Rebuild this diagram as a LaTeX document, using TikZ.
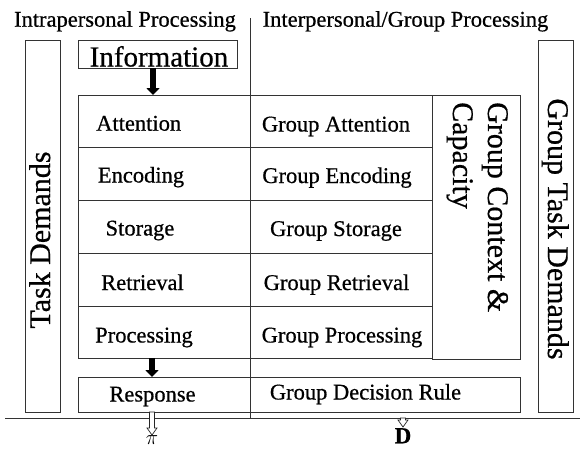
\documentclass[tikz,border=0pt]{standalone}
\usepackage{fontspec}
\setmainfont[FakeBold=0.6]{Liberation Serif}
\usetikzlibrary{arrows.meta,calc}
\begin{document}
\begin{tikzpicture}[x=1pt,y=-1pt,
  ln/.style={draw=black!80, line width=0.8pt},
  cell/.style={ln, rectangle, inner sep=0pt, outer sep=0pt, anchor=north west},
  lbl/.style={font=\fontsize{22.5}{27}\selectfont, inner sep=0pt, anchor=base},
  big/.style={font=\fontsize{30}{34}\selectfont, inner sep=0pt},
  solidarrow/.style={draw=black, line width=6pt, -{Triangle[width=13pt,length=7pt]}},
  hollowarrow/.style={draw=black!85, line width=0.7pt, fill=white, to path={
    ($(\tikztostart)+(-2.5,0)$) -- ($(\tikztotarget)+(-2.5,-7)$) -- ($(\tikztotarget)+(-5,-7)$)
    -- (\tikztotarget) -- ($(\tikztotarget)+(5,-7)$) -- ($(\tikztotarget)+(2.5,-7)$)
    -- ($(\tikztostart)+(2.5,0)$) -- cycle}},
]
\useasboundingbox (0,0) rectangle (583,451);

% boxes
\node[cell, minimum width=35pt, minimum height=372pt] (task) at (25,40) {};
\node[cell, minimum width=35pt, minimum height=372pt] (gtask) at (538,40) {};
\node[cell, minimum width=159pt, minimum height=28pt] (info) at (78,40) {};
\node[cell, minimum width=354pt, minimum height=52pt] (rA) at (78,95) {};
\node[cell, minimum width=354pt, minimum height=53pt] (rE) at (78,147) {};
\node[cell, minimum width=354pt, minimum height=53pt] (rS) at (78,200) {};
\node[cell, minimum width=354pt, minimum height=53pt] (rR) at (78,253) {};
\node[cell, minimum width=354pt, minimum height=52pt] (rP) at (78,306) {};
\node[cell, minimum width=88pt, minimum height=264pt] (ctx) at (432,95) {};
\node[cell, minimum width=172pt, minimum height=35pt] (resp) at (78,377) {};
\node[cell, minimum width=270pt, minimum height=35pt] (dec) at (250,377) {};

% divider and ground line
\coordinate (divtop) at (250,18);
\coordinate (divbot) at (250,418);
\draw[ln] (divtop) -- (divbot);
\coordinate (bl) at (5,418);
\coordinate (br) at (580,418);
\draw[ln] (bl) -- (br);

% titles
\node[lbl] (t1) at (125,26.7) {Intrapersonal Processing};
\node[lbl] (t2) at (405.5,26.7) {Interpersonal/Group Processing};
\node[font=\fontsize{29}{32}\selectfont, inner sep=0pt, anchor=base] (infot) at (159,66.5) {Information};

% left column
\node[lbl] (la) at (138.7,130.7) {Attention};
\node[lbl] (le) at (141,182.5) {Encoding};
\node[lbl] (ls) at (140,235.5) {Storage};
\node[lbl] (lr) at (142.5,290) {Retrieval};
\node[lbl] (lp) at (144,342.5) {Processing};
\node[lbl] (lres) at (152.5,401.5) {Response};

% group column
\node[lbl] (ga) at (336,131.5) {Group Attention};
\node[lbl] (ge) at (337,183) {Group Encoding};
\node[lbl] (gs) at (336,236) {Group Storage};
\node[lbl] (gr) at (336.5,290) {Group Retrieval};
\node[lbl] (gp) at (342,342.5) {Group Processing};
\node[lbl] (gd) at (365.5,399.5) {Group Decision Rule};

% rotated labels
\node[big, rotate=90, anchor=base] (taskt) at (50,240) {Task Demands};
\node[big, rotate=-90, anchor=base] (gtaskt) at (548,229) {Group Task Demands};
\node[big, rotate=-90, anchor=base west] (ctx1) at (488,102) {Group Context \&};
\node[big, rotate=-90, anchor=base west] (ctx2) at (453,102) {Capacity};

% outputs
\node[font=\fontsize{22.5}{27}\selectfont, inner sep=0pt, anchor=north] (pi) at (152,435) {$\pi$};
\node[font=\bfseries\fontsize{23}{25}\selectfont, inner sep=0pt, anchor=north] (dd) at (403,428) {D};

% arrows
\coordinate (ax) at (153,0);
\draw[solidarrow] (info.south -| ax) -- (rA.north -| ax);
\coordinate (bx) at (152,0);
\draw[solidarrow] (rP.south -| bx) -- (resp.north -| bx);
\coordinate (pis) at (resp.south -| pi);
\draw[hollowarrow] (pis) to (pi.north);
\coordinate (dds) at (br -| dd);
\draw[hollowarrow] (dds) to ($(dd.north)+(0,-1)$);
\end{tikzpicture}
\end{document}
